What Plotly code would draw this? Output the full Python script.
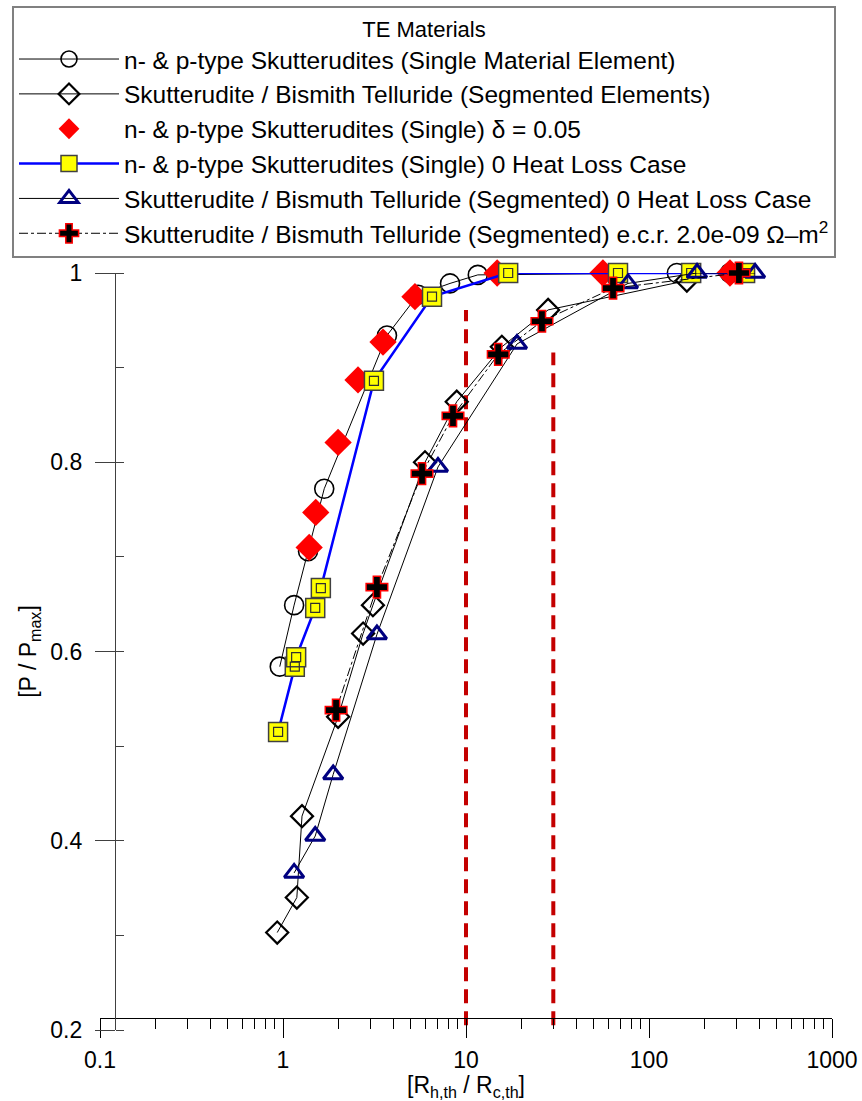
import plotly.graph_objects as go

# ---- data ----
circ_x = [0.96, 1.15, 1.37, 1.68, 3.70, 5.47, 8.18, 11.6, 142, 277]
circ_y = [0.584, 0.649, 0.706, 0.772, 0.934, 0.977, 0.989, 0.998, 1.0, 1.0]

seg_x = [0.93, 1.19, 1.27, 2.0, 2.74, 3.10, 5.97, 8.9, 15.7, 28.1, 161]
seg_y = [0.303, 0.340, 0.426, 0.531, 0.619, 0.649, 0.800, 0.864, 0.922, 0.961, 0.992]

rd_x = [1.39, 1.51, 2.0, 2.57, 3.52, 5.26, 14.8, 56, 277]
rd_y = [0.710, 0.747, 0.821, 0.887, 0.927, 0.975, 1.0, 1.0, 1.0]

sq_x = [0.94, 1.16, 1.18, 1.50, 1.61, 3.14, 6.52, 17.0, 67.7, 170, 335]
sq_y = [0.515, 0.584, 0.594, 0.646, 0.667, 0.886, 0.975, 1.0, 1.0, 1.0, 1.0]

tr_x = [1.15, 1.50, 1.88, 3.26, 7.03, 19.0, 76.8, 183, 380]
tr_y = [0.366, 0.405, 0.470, 0.618, 0.795, 0.925, 0.989, 1.0, 1.0]

cr_x = [1.95, 3.26, 5.75, 8.49, 15.0, 26.0, 63.6, 310]
cr_y = [0.538, 0.668, 0.788, 0.849, 0.914, 0.949, 0.984, 1.0]

ref_x = [10, 30]
ref_top = [0.961, 0.916]
ref_bottom = 0.205

names = [
    "n- & p-type Skutterudites (Single Material Element)",
    "Skutterudite / Bismith Telluride (Segmented Elements)",
    "n- & p-type Skutterudites (Single) δ = 0.05",
    "n- & p-type Skutterudites (Single) 0 Heat Loss Case",
    "Skutterudite / Bismuth Telluride (Segmented) 0 Heat Loss Case",
    "Skutterudite / Bismuth Telluride (Segmented) e.c.r. 2.0e-09 Ω–m<sup>2</sup>",
]

y_ticks = [0.2, 0.4, 0.6, 0.8, 1.0]
y_ticktext = ["0.2", "0.4", "0.6", "0.8", "1"]

FONT = "Liberation Sans, Arial, sans-serif"

fig = go.Figure()

# reference dashed lines
for xv, yt in zip(ref_x, ref_top):
    fig.add_trace(go.Scatter(x=[xv, xv], y=[ref_bottom, yt], mode="lines",
                             line=dict(color="#c40000", width=4, dash="14px,8px"),
                             showlegend=False, hoverinfo="skip", cliponaxis=False))

fig.add_trace(go.Scatter(x=circ_x, y=circ_y, name=names[0], mode="lines+markers",
                         line=dict(color="black", width=1),
                         marker=dict(symbol="circle-open", size=19, color="black",
                                     line=dict(width=1.6, color="black")),
                         cliponaxis=False))
fig.add_trace(go.Scatter(x=seg_x, y=seg_y, name=names[1], mode="lines+markers",
                         line=dict(color="black", width=1),
                         marker=dict(symbol="diamond-open", size=17, color="black",
                                     line=dict(width=2.2, color="black")),
                         cliponaxis=False))
fig.add_trace(go.Scatter(x=rd_x, y=rd_y, name=names[2], mode="markers",
                         marker=dict(symbol="diamond", size=21, color="#ff0000",
                                     line=dict(width=0)),
                         cliponaxis=False))
fig.add_trace(go.Scatter(x=sq_x, y=sq_y, name=names[3], mode="lines+markers",
                         line=dict(color="#0000ff", width=2.5),
                         marker=dict(symbol="square", size=19, color="#ffff00",
                                     line=dict(width=1.5, color="#404040")),
                         cliponaxis=False))
fig.add_trace(go.Scatter(x=sq_x, y=sq_y, mode="markers", showlegend=False,
                         hoverinfo="skip",
                         marker=dict(symbol="square-open", size=9, color="#303030",
                                     line=dict(width=1.2, color="#303030")),
                         cliponaxis=False))
fig.add_trace(go.Scatter(x=tr_x, y=tr_y, name=names[4], mode="lines+markers",
                         line=dict(color="black", width=1),
                         marker=dict(symbol="triangle-up-open", size=17, color="#000080",
                                     line=dict(width=3, color="#000080")),
                         cliponaxis=False))
fig.add_trace(go.Scatter(x=cr_x, y=cr_y, name=names[5], mode="lines+markers",
                         line=dict(color="black", width=1, dash="dashdot"),
                         marker=dict(symbol="cross", size=18, color="black",
                                     line=dict(width=1.5, color="#ff0000")),
                         cliponaxis=False))

fig.update_layout(
    width=862, height=1101,
    margin=dict(l=100, r=30, t=273, b=71, autoexpand=False),
    paper_bgcolor="white", plot_bgcolor="white",
    font=dict(family=FONT, size=22, color="black"),
    showlegend=True,
    legend=dict(
        x=(12 - 100) / 732, y=1 + (273 - 6) / 757, xanchor="left", yanchor="top",
        bordercolor="#808080", borderwidth=2, bgcolor="white",
        font=dict(family=FONT, size=24.5, color="black"),
        title=dict(text="TE Materials", side="top center",
                   font=dict(family=FONT, size=22, color="black")),
        itemwidth=100, itemsizing="trace", tracegroupgap=0,
    ),
    xaxis=dict(
        type="log", range=[-1, 3], dtick=1, exponentformat="none",
        anchor="free", position=(1030 - 1018) / 757,
        showline=True, linecolor="black", linewidth=1.2,
        ticks="outside", ticklen=19, tickwidth=1.2, tickcolor="black",
        minor=dict(ticks="outside", ticklen=10, tickwidth=1, tickcolor="black", dtick="D1"),
        showgrid=False, zeroline=False, automargin=False,
        tickfont=dict(family=FONT, size=23), ticklabelstandoff=2,
        title=dict(text="[R<sub>h,th</sub> / R<sub>c,th</sub>]", standoff=4,
                   font=dict(family=FONT, size=23)),
    ),
    yaxis=dict(
        range=[0.2, 1.0], tickmode="array", tickvals=y_ticks, ticktext=y_ticktext,
        anchor="free", position=(115 - 100) / 732,
        showline=True, linecolor="#404040", linewidth=1.2,
        ticks="outside", ticklen=20, tickwidth=1.2, tickcolor="#404040",
        minor=dict(ticks="inside", ticklen=8, tickwidth=1, tickcolor="#404040", dtick=0.1),
        showgrid=False, zeroline=False, automargin=False,
        tickfont=dict(family=FONT, size=23), ticklabelstandoff=8,
        title=dict(text="[P / P<sub>max</sub>]", standoff=6,
                   font=dict(family=FONT, size=23)),
    ),
)

fig.write_html("out.html")
